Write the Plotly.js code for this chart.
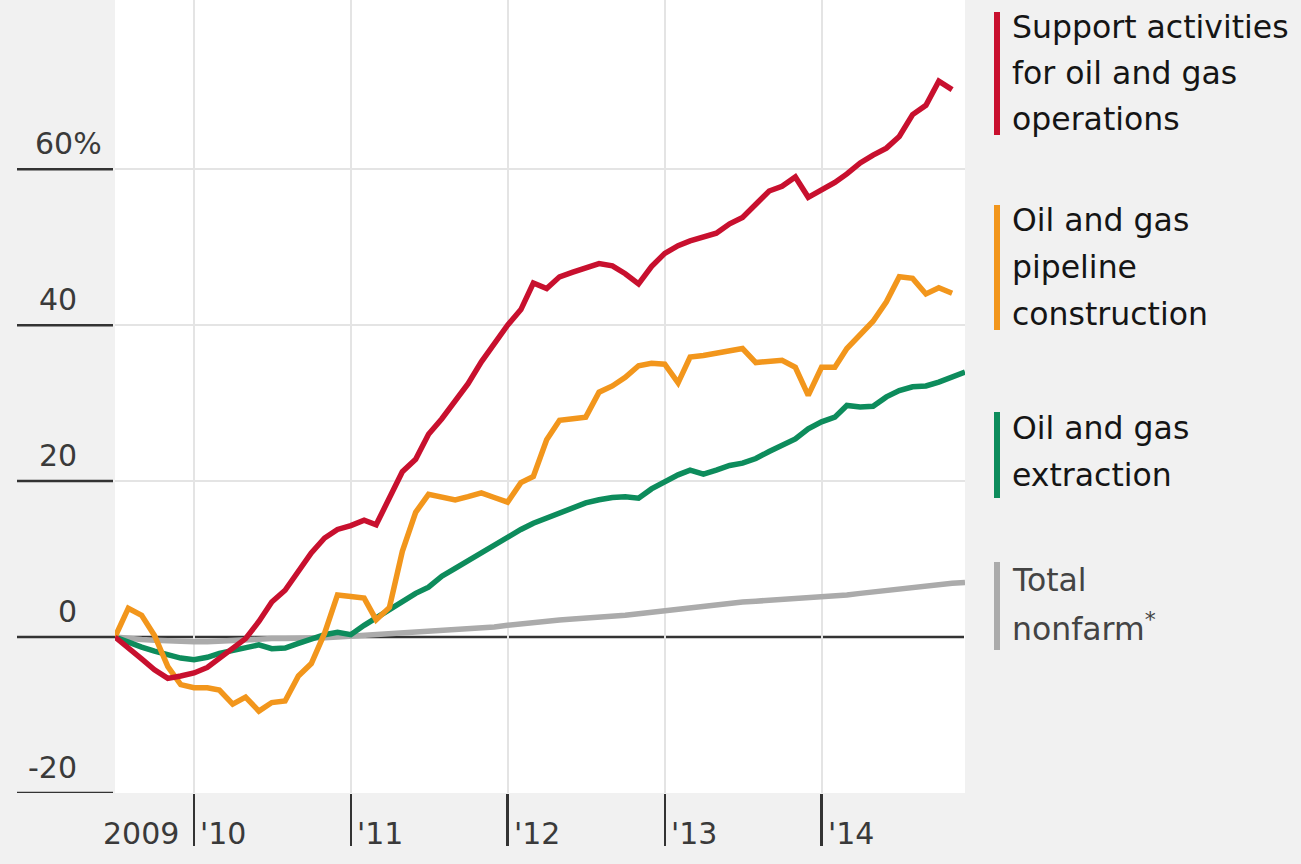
<!DOCTYPE html>
<html>
<head>
<meta charset="utf-8">
<script src="https://cdn.plot.ly/plotly-3.0.1.min.js"></script>
<style>html,body{margin:0;padding:0;background:#f1f1f1;}#chart{width:1301px;height:864px;}</style>
</head>
<body>
<div id="chart"></div>
<script>
// Monthly observations, Jul 2009 – Dec 2014 (percent change since Jul 2009)
const months = [
 "2009-07","2009-08","2009-09","2009-10","2009-11","2009-12",
 "2010-01","2010-02","2010-03","2010-04","2010-05","2010-06","2010-07","2010-08","2010-09","2010-10","2010-11","2010-12",
 "2011-01","2011-02","2011-03","2011-04","2011-05","2011-06","2011-07","2011-08","2011-09","2011-10","2011-11","2011-12",
 "2012-01","2012-02","2012-03","2012-04","2012-05","2012-06","2012-07","2012-08","2012-09","2012-10","2012-11","2012-12",
 "2013-01","2013-02","2013-03","2013-04","2013-05","2013-06","2013-07","2013-08","2013-09","2013-10","2013-11","2013-12",
 "2014-01","2014-02","2014-03","2014-04","2014-05","2014-06","2014-07","2014-08","2014-09","2014-10","2014-11","2014-12"
];

const supportActivities = [
 0,-1.5,-2.8,-4.2,-5.3,-5.0,
 -4.6,-3.9,-2.8,-1.5,-0.2,2.0,4.5,6.0,8.5,10.8,12.7,13.8,
 14.3,15.0,14.4,18.0,21.2,22.8,26.0,28.0,30.2,32.5,35.3,37.6,
 40.0,42.0,45.4,44.7,46.2,46.8,47.4,47.9,47.6,46.6,45.3,47.5,
 49.2,50.2,50.8,51.3,51.8,53.0,53.8,55.5,57.2,57.8,59.0,56.4,
 57.3,58.3,59.4,60.8,61.8,62.7,64.2,67.0,68.2,71.3,70.2
];

const pipelineConstruction = [
 0,3.7,2.8,0.2,-3.8,-6.1,
 -6.5,-6.5,-6.8,-8.6,-7.7,-9.5,-8.4,-8.2,-5.0,-3.4,0.5,5.4,
 5.2,5.0,2.2,3.8,11.0,16.0,18.3,18.0,17.6,18.0,18.5,17.9,
 17.3,19.8,20.6,25.3,27.8,28.0,28.2,31.4,32.2,33.3,34.8,35.1,
 35.0,32.6,35.9,36.1,36.4,36.7,37.0,35.2,35.3,35.5,34.6,31.0,
 34.6,34.6,37.0,38.8,40.5,43.0,46.2,46.0,44.0,44.8,44.1
];

const extraction = [
 0,-0.7,-1.3,-1.8,-2.2,-2.7,
 -2.9,-2.6,-2.1,-1.7,-1.3,-1.0,-1.5,-1.4,-0.8,-0.2,0.3,0.6,
 0.3,1.5,2.5,3.6,4.7,5.6,6.4,7.8,8.8,9.8,10.8,11.8,
 12.8,13.8,14.6,15.3,15.8,16.5,17.2,17.6,17.9,18.0,17.8,19.0,
 20.0,20.8,21.4,20.9,21.4,22.0,22.3,22.9,23.8,24.6,25.4,26.7,
 27.6,28.2,29.7,29.5,29.6,30.8,31.6,32.1,32.2,32.7,33.4,34.0
];

const totalNonfarm = [
 0,-0.2,-0.3,-0.4,-0.5,-0.5,
 -0.6,-0.6,-0.5,-0.4,-0.3,-0.2,-0.2,-0.2,-0.2,-0.1,-0.1,0.0,
 0.1,0.2,0.4,0.5,0.5,0.6,0.8,0.9,1.0,1.1,1.2,1.3,
 1.5,1.7,1.9,2.1,2.2,2.3,2.4,2.5,2.6,2.8,3.0,3.2,
 3.4,3.6,3.8,4.0,4.1,4.3,4.5,4.6,4.7,4.8,4.9,5.0,
 5.1,5.2,5.4,5.6,5.8,6.0,6.2,6.4,6.6,6.8,6.9,7.0
];

const yTickValues = [60, 40, 20, 0, -20];
const yTickLabels = ["60%", "40", "20", "0", "-20"];
const yearTicks = ["2010-01-01","2011-01-01","2012-01-01","2013-01-01","2014-01-01"];
const yearLabels = ["'10","'11","'12","'13","'14"];

const seriesNames = [
 "Support activities for oil and gas operations",
 "Oil and gas pipeline construction",
 "Oil and gas extraction",
 "Total nonfarm*"
];
const legendLines = [
 ["Support activities","for oil and gas","operations"],
 ["Oil and gas","pipeline","construction"],
 ["Oil and gas","extraction"],
 ["Total","nonfarm<sup>*</sup>"]
];
const colors = ["#c8102e", "#f2961c", "#0d8c5c", "#ababab"];

// ---- layout helpers (pixel geometry -> paper coords) ----
const W = 1301, H = 864;
const M = {l: 115, r: 336, t: 0, b: 71};
const PW = W - M.l - M.r, PH = H - M.t - M.b;
const px2x = p => (p - M.l) / PW;
const py2y = p => (M.t + PH - p) / PH;
const FONT = "DejaVu Sans, Verdana, sans-serif";

const traces = [
 {x: months.slice(0, totalNonfarm.length), y: totalNonfarm, color: colors[3], name: seriesNames[3]},
 {x: months.slice(0, extraction.length), y: extraction, color: colors[2], name: seriesNames[2]},
 {x: months.slice(0, pipelineConstruction.length), y: pipelineConstruction, color: colors[1], name: seriesNames[1]},
 {x: months.slice(0, supportActivities.length), y: supportActivities, color: colors[0], name: seriesNames[0]}
].map(s => ({
  type: "scatter", mode: "lines", x: s.x, y: s.y, name: s.name,
  line: {color: s.color, width: 5.5, shape: "linear"},
  hoverinfo: "x+y+name"
}));

const shapes = [];
// dark stubs under the y labels
yTickValues.forEach(v => {
  shapes.push({type: "line", xref: "paper", yref: "y", x0: px2x(17), x1: px2x(113), y0: v, y1: v,
    line: {color: "#333333", width: 2.5}, layer: "above"});
});
// zero line across the plot
shapes.push({type: "line", xref: "paper", yref: "y", x0: px2x(113), x1: px2x(964), y0: 0, y1: 0,
  line: {color: "#333333", width: 2.5}, layer: "below"});
// legend colour bars
const barRanges = [[12, 135], [205, 330], [412, 498], [562, 650]];
barRanges.forEach((r, i) => {
  shapes.push({type: "line", xref: "paper", yref: "paper", x0: px2x(997), x1: px2x(997),
    y0: py2y(r[0]), y1: py2y(r[1]), line: {color: colors[i], width: 6}});
});

const annotations = [];
yTickLabels.forEach((t, i) => {
  const right = (t.indexOf("%") >= 0) ? 104 : 79;
  annotations.push({xref: "paper", yref: "y", x: px2x(right), y: yTickValues[i], xanchor: "right", yanchor: "middle",
    yshift: 26, text: t, showarrow: false, font: {family: FONT, size: 30, color: "#3a3a3a"}});
});
annotations.push({xref: "x", yref: "paper", x: yearTicks[0], y: 0, xanchor: "right", yanchor: "middle",
  xshift: -13, yshift: -40, text: "2009", showarrow: false, font: {family: FONT, size: 30, color: "#3a3a3a"}});
yearTicks.forEach((d, i) => {
  annotations.push({xref: "x", yref: "paper", x: d, y: 0, xanchor: "left", yanchor: "middle",
    xshift: 4, yshift: -40, text: yearLabels[i], showarrow: false, font: {family: FONT, size: 30, color: "#3a3a3a"}});
});
const lineCenters = [[27, 73, 119], [220, 267, 314], [428, 475], [580, 627]];
legendLines.forEach((lines, i) => {
  lines.forEach((ln, j) => {
    annotations.push({xref: "paper", yref: "paper", x: px2x(1010), y: py2y(lineCenters[i][j]),
      xanchor: "left", yanchor: "middle", text: ln, showarrow: false,
      font: {family: FONT, size: 31.5, color: (i === 3 ? "#444444" : "#151515")}});
  });
});

const layout = {
  width: W, height: H,
  margin: M,
  paper_bgcolor: "#f1f1f1",
  plot_bgcolor: "#ffffff",
  showlegend: false,
  xaxis: {
    type: "date",
    range: ["2009-07-01", "2014-12-01"],
    tickvals: yearTicks,
    showticklabels: false,
    ticks: "outside", ticklen: 52, tickwidth: 2.5, tickcolor: "#333333",
    showgrid: true, gridcolor: "#e4e4e4", gridwidth: 2,
    zeroline: false, showline: false, fixedrange: true
  },
  yaxis: {
    range: [-20, 81.7],
    tickvals: [60, 40, 20],
    showticklabels: false,
    ticks: "",
    showgrid: true, gridcolor: "#e4e4e4", gridwidth: 2,
    zeroline: false, showline: false, fixedrange: true
  },
  shapes: shapes,
  annotations: annotations,
  font: {family: FONT}
};

Plotly.newPlot("chart", traces, layout, {displayModeBar: false, staticPlot: true});
</script>
</body>
</html>
